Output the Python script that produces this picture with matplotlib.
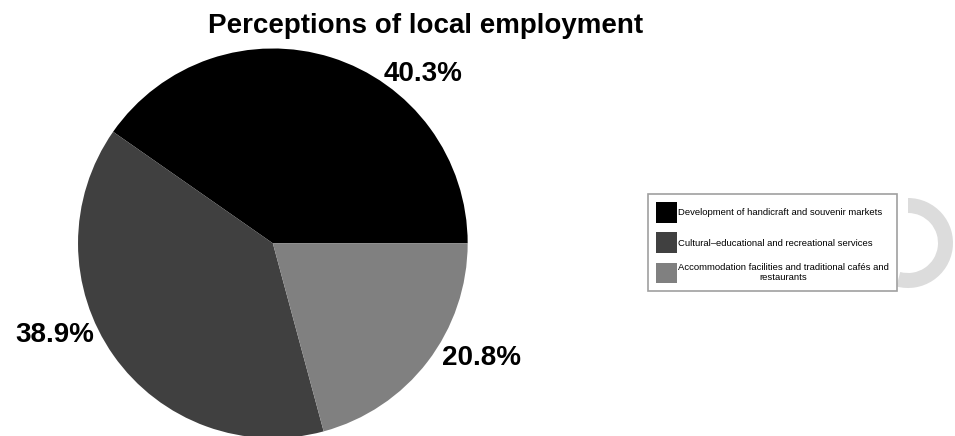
import matplotlib.pyplot as plt
from matplotlib.patches import Wedge

plt.rcParams['font.family'] = ['Liberation Sans', 'DejaVu Sans']

categories = ["Development of handicraft and souvenir markets",
              "Cultural\u2013educational and recreational services",
              "Accommodation facilities and traditional caf\u00e9s and\nrestaurants"]
shares = [40.3, 38.9, 20.8]
colors = ["#000000", "#404040", "#808080"]
pct_labels = ["40.3%", "38.9%", "20.8%"]

fig = plt.figure(figsize=(9.55, 4.36), dpi=100)

# faint decoration on the right edge
deco = fig.add_axes([0, 0, 1, 1])
deco.set_xlim(0, 955)
deco.set_ylim(0, 436)
deco.axis("off")
deco.add_patch(Wedge((908, 193), 45, -105, 90, width=15, color="#dcdcdc", lw=0))

ax = fig.add_axes([0.0817, -0.005, 0.408, 0.894])
wedges, _ = ax.pie(shares, colors=colors, startangle=0, counterclock=True,
                   radius=1.0, wedgeprops=dict(linewidth=0))
ax.set_xlim(-1, 1)
ax.set_ylim(-1, 1)
ax.set_aspect("equal")

label_xy = [(0.77, 0.87), (-1.12, -0.47), (1.07, -0.59)]
for txt, (x, y) in zip(pct_labels, label_xy):
    ax.text(x, y, txt, ha="center", va="center", fontsize=20, fontweight="bold",
            clip_on=False)

fig.text(0.446, 0.94, "Perceptions of local employment", ha="center", va="center",
         fontsize=20, fontweight="bold")

leg = fig.legend(wedges, categories, loc="center", bbox_to_anchor=(0.809, 0.443),
                 fontsize=6.8, handlelength=2.2, handleheight=3.0, handletextpad=0.1,
                 labelspacing=1.0, fancybox=False, edgecolor="#a0a0a0",
                 framealpha=1, borderpad=0.85, borderaxespad=0)
for t in leg.get_texts():
    t.set_multialignment("center")
leg.get_frame().set_linewidth(1.2)

fig.savefig("out.png", dpi=100)
